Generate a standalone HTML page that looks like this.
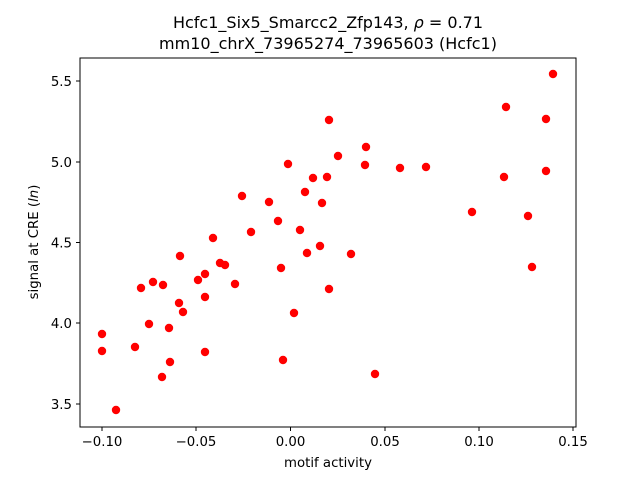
<!DOCTYPE html>
<html><head><style>body{margin:0;background:#fff}svg{display:block}</style></head><body>
<svg width="640" height="480" xmlns="http://www.w3.org/2000/svg" font-family="DejaVu Sans, Liberation Sans, sans-serif">
<rect width="640" height="480" fill="#fff"/>
<g fill="#ff0000">
<circle cx="553" cy="74" r="4.2"/><circle cx="506" cy="107" r="4.2"/><circle cx="546" cy="119" r="4.2"/><circle cx="329" cy="120" r="4.2"/><circle cx="366" cy="147" r="4.2"/><circle cx="288" cy="164" r="4.2"/><circle cx="338" cy="156" r="4.2"/><circle cx="365" cy="165" r="4.2"/><circle cx="400" cy="168" r="4.2"/><circle cx="426" cy="167" r="4.2"/><circle cx="242" cy="196" r="4.2"/><circle cx="305" cy="192" r="4.2"/><circle cx="313" cy="178" r="4.2"/><circle cx="327" cy="177" r="4.2"/><circle cx="504" cy="177" r="4.2"/><circle cx="546" cy="171" r="4.2"/><circle cx="269" cy="202" r="4.2"/><circle cx="278" cy="221" r="4.2"/><circle cx="322" cy="203" r="4.2"/><circle cx="472" cy="212" r="4.2"/><circle cx="251" cy="232" r="4.2"/><circle cx="213" cy="238" r="4.2"/><circle cx="300" cy="230" r="4.2"/><circle cx="320" cy="246" r="4.2"/><circle cx="180" cy="256" r="4.2"/><circle cx="307" cy="253" r="4.2"/><circle cx="351" cy="254" r="4.2"/><circle cx="528" cy="216" r="4.2"/><circle cx="220" cy="263" r="4.2"/><circle cx="225" cy="265" r="4.2"/><circle cx="281" cy="268" r="4.2"/><circle cx="532" cy="267" r="4.2"/><circle cx="153" cy="282" r="4.2"/><circle cx="141" cy="288" r="4.2"/><circle cx="163" cy="285" r="4.2"/><circle cx="198" cy="280" r="4.2"/><circle cx="205" cy="274" r="4.2"/><circle cx="235" cy="284" r="4.2"/><circle cx="329" cy="289" r="4.2"/><circle cx="205" cy="297" r="4.2"/><circle cx="179" cy="303" r="4.2"/><circle cx="183" cy="312" r="4.2"/><circle cx="149" cy="324" r="4.2"/><circle cx="169" cy="328" r="4.2"/><circle cx="294" cy="313" r="4.2"/><circle cx="102" cy="334" r="4.2"/><circle cx="102" cy="351" r="4.2"/><circle cx="135" cy="347" r="4.2"/><circle cx="205" cy="352" r="4.2"/><circle cx="170" cy="362" r="4.2"/><circle cx="283" cy="360" r="4.2"/><circle cx="375" cy="374" r="4.2"/><circle cx="162" cy="377" r="4.2"/><circle cx="116" cy="410" r="4.2"/>
</g>
<rect x="80" y="58" width="496" height="369" fill="none" stroke="#000" stroke-width="1"/>
<g stroke="#000">
<line x1="102" y1="427" x2="102" y2="431"/><line x1="196" y1="427" x2="196" y2="431"/><line x1="290.5" y1="427" x2="290.5" y2="431"/><line x1="385" y1="427" x2="385" y2="431"/><line x1="479" y1="427" x2="479" y2="431"/><line x1="573" y1="427" x2="573" y2="431"/>
<line x1="76" y1="81" x2="80" y2="81"/><line x1="76" y1="162" x2="80" y2="162"/><line x1="76" y1="242.5" x2="80" y2="242.5"/><line x1="76" y1="323" x2="80" y2="323"/><line x1="76" y1="404" x2="80" y2="404"/>
</g>
<g font-size="13.3" text-anchor="middle" fill="#000">
<text x="102" y="446">−0.10</text><text x="196" y="446">−0.05</text><text x="290.5" y="446">0.00</text><text x="385" y="446">0.05</text><text x="479" y="446">0.10</text><text x="573" y="446">0.15</text>
</g>
<g font-size="13.3" text-anchor="end" fill="#000">
<text x="72" y="86">5.5</text><text x="72" y="167">5.0</text><text x="72" y="247.5">4.5</text><text x="72" y="328">4.0</text><text x="72" y="409">3.5</text>
</g>
<text x="328" y="467" font-size="13.3" text-anchor="middle">motif activity</text>
<text transform="translate(38,242) rotate(-90)" font-size="13.3" text-anchor="middle">signal at CRE (<tspan font-style="italic">ln</tspan>)</text>
<text x="328" y="28" font-size="16" text-anchor="middle">Hcfc1_Six5_Smarcc2_Zfp143, <tspan font-style="italic">ρ</tspan> = 0.71</text>
<text x="328" y="49" font-size="16" text-anchor="middle">mm10_chrX_73965274_73965603 (Hcfc1)</text>
</svg>
</body></html>
